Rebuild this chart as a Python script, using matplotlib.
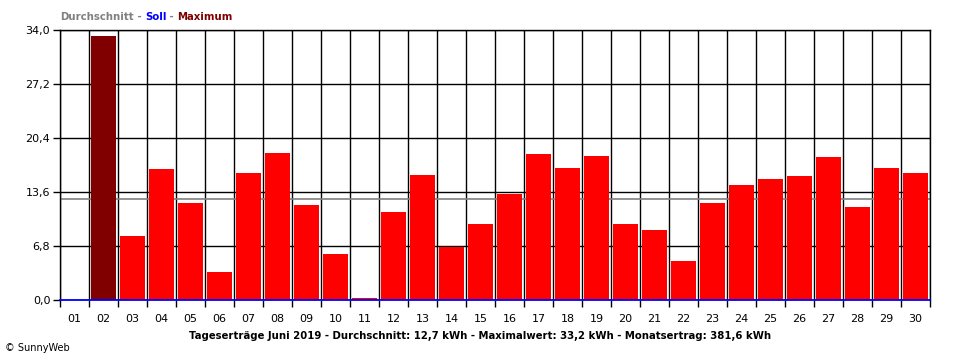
import matplotlib
matplotlib.use("Agg")
import matplotlib.pyplot as plt
import numpy as np

days = ["01","02","03","04","05","06","07","08","09","10","11","12","13","14","15",
        "16","17","18","19","20","21","22","23","24","25","26","27","28","29","30"]
values = [0.0, 33.2, 8.0, 16.5, 12.2, 3.5, 16.0, 18.5, 12.0, 5.8, 0.25, 11.1, 15.7, 6.7, 9.6,
          13.3, 18.4, 16.6, 18.1, 9.6, 8.8, 4.9, 12.2, 14.5, 15.2, 15.6, 18.0, 11.7, 16.6, 16.0]
average = 12.7
y_ticks = [0.0, 6.8, 13.6, 20.4, 27.2, 34.0]
y_tick_labels = ["0,0", "6,8", "13,6", "20,4", "27,2", "34,0"]
legend_parts = [("Durchschnitt", "#808080"), (" - ", "#808080"), ("Soll", "#0000FF"),
                (" - ", "#808080"), ("Maximum", "#800000")]
footer = "Tageserträge Juni 2019 - Durchschnitt: 12,7 kWh - Maximalwert: 33,2 kWh - Monatsertrag: 381,6 kWh"
copyright_text = "© SunnyWeb"

plt.rcParams['font.family'] = ['DejaVu Sans']
fig = plt.figure(figsize=(9.6, 3.6), dpi=100)
ax = fig.add_axes([60/960, 1-300/360, 870/960, 270/360])

x = np.arange(1, len(days)+1)
vmax = max(values)
colors = ["#800000" if v == vmax else "#FF0000" for v in values]
ax.bar(x, values, width=0.88, color=colors, edgecolor="none", zorder=3)
ax.axhline(average, color="#808080", linewidth=1.2, zorder=2)

ax.set_xlim(0.5, len(days)+0.5)
ax.set_ylim(0, 34.0)
ax.set_xticks(x)
ax.set_xticklabels(days, fontsize=8)
ax.set_xticks(np.arange(0.5, len(days)+1, 1.0), minor=True)
ax.tick_params(axis='x', which='major', length=0, pad=10)
ax.tick_params(axis='x', which='minor', length=5, width=1, color='black', direction='out')
ax.set_yticks(y_ticks)
ax.set_yticklabels(y_tick_labels, fontsize=8)
ax.tick_params(axis='y', length=5, width=1, direction='out', pad=2)
ax.grid(axis='x', which='minor', color='black', linewidth=1, zorder=1)
ax.grid(axis='y', which='major', color='black', linewidth=1, zorder=1)
ax.set_axisbelow(True)
for s in ['top', 'right', 'left']:
    ax.spines[s].set_color('black')
    ax.spines[s].set_linewidth(1)
ax.spines['bottom'].set_color('#0000FF')
ax.spines['bottom'].set_linewidth(1.3)
ax.spines['bottom'].set_zorder(4)

last = fig.text(60/960, 1-17/360, legend_parts[0][0], color=legend_parts[0][1],
                fontsize=7.3, fontweight='bold', va='center', ha='left')
for txt, col in legend_parts[1:]:
    last = ax.annotate(txt, xy=(1, 0.5), xycoords=last, va='center', ha='left',
                       color=col, fontsize=7.3, fontweight='bold', annotation_clip=False)

fig.text(480/960, 1-336/360, footer, fontsize=7.3, fontweight='bold', ha='center', va='center')
fig.text(5/960, 1-348/360, copyright_text, fontsize=7, ha='left', va='center')

fig.savefig("out.png", dpi=100, facecolor='white')
